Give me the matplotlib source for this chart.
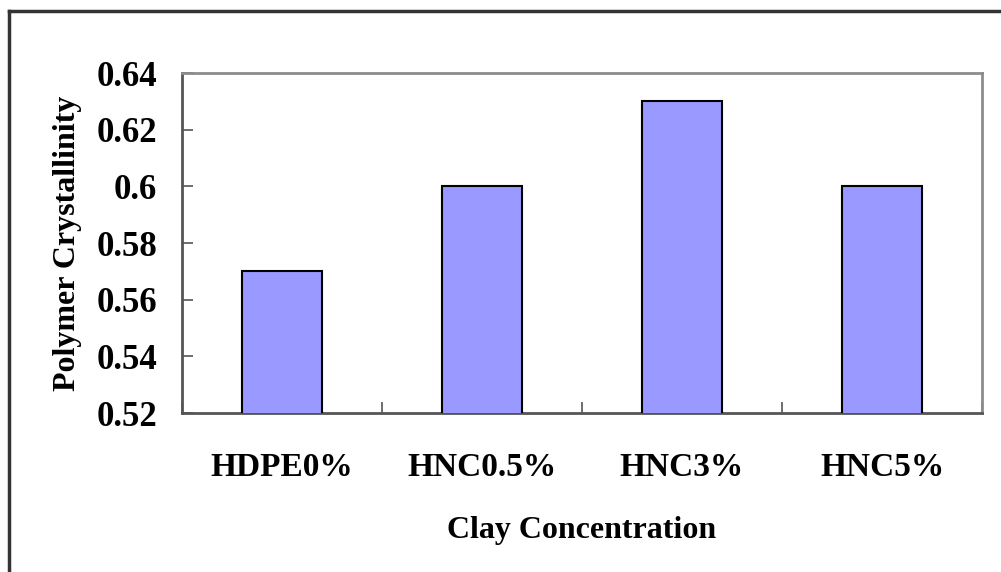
import matplotlib.pyplot as plt
import numpy as np

categories = ['HDPE0%', 'HNC0.5%', 'HNC3%', 'HNC5%']
crystallinity = [0.57, 0.60, 0.63, 0.60]
y_ticks = [0.52, 0.54, 0.56, 0.58, 0.60, 0.62, 0.64]
y_tick_labels = ['0.52', '0.54', '0.56', '0.58', '0.6', '0.62', '0.64']

plt.rcParams['font.family'] = ['Liberation Serif', 'DejaVu Serif']
plt.rcParams['font.weight'] = 'bold'

W, H = 1001, 572
fig = plt.figure(figsize=(W / 100, H / 100), dpi=100)
ax = fig.add_axes([182 / W, 1 - 413 / H, 800 / W, 340 / H])

x = np.arange(len(categories))
ax.bar(x, crystallinity, width=0.4, color='#9999ff', edgecolor='black', linewidth=1.5, zorder=3)

ax.set_xlim(-0.5, len(categories) - 0.5)
ax.set_ylim(0.52, 0.64)
ax.set_yticks(y_ticks)
ax.set_yticklabels(y_tick_labels, fontsize=25, fontweight='bold')
ax.set_xticks(x)
ax.set_xticklabels(categories, fontsize=24, fontweight='bold')
ax.tick_params(axis='x', length=0, pad=28)
ax.tick_params(axis='y', direction='in', length=8, width=1.2, color='#555555', pad=18)

# category boundary ticks on the x axis
ax.set_xticks(np.arange(-0.5, len(categories) + 0.5, 1), minor=True)
ax.tick_params(axis='x', which='minor', direction='in', length=8, width=1.2, color='#555555')

for s in ax.spines.values():
    s.set_color('#8c8c8c')
    s.set_linewidth(2)
ax.spines['left'].set_color('#555555')
ax.spines['bottom'].set_color('#555555')

ax.set_ylabel('Polymer Crystallinity', fontsize=23, fontweight='bold')
ax.yaxis.set_label_coords((82 - 182) / 800, 0.5)
ax.set_xlabel('Clay Concentration', fontsize=23, fontweight='bold')
ax.xaxis.set_label_coords(0.5, -(516 - 413) / 340)

# outer chart border (cropped at right and bottom)
fig.add_artist(plt.Line2D([8.5 / W, 8.5 / W], [0, 1 - 10.5 / H], color='#333333', lw=2.5))
fig.add_artist(plt.Line2D([8.5 / W, 1], [1 - 10.5 / H, 1 - 10.5 / H], color='#333333', lw=2.5))

fig.savefig('out.png', dpi=100)
